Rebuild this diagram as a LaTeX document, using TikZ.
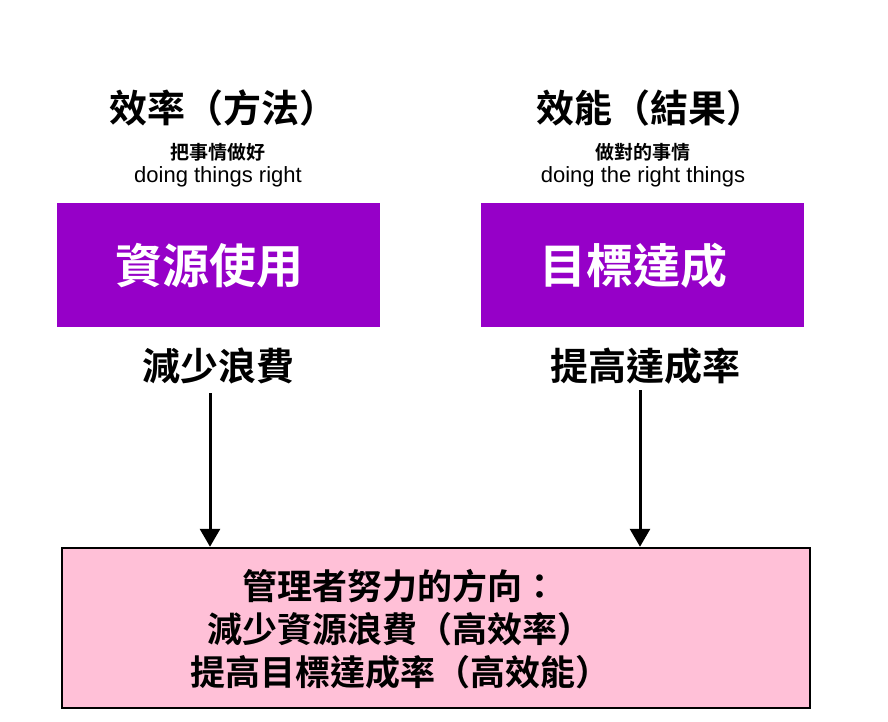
\documentclass[tikz,border=0pt]{standalone}
\usepackage{fontspec}
\setmainfont{Liberation Sans}
\newfontfamily\cjk{Noto Sans CJK TC}[BoldFont={* Bold}]
\usetikzlibrary{arrows.meta}
\definecolor{boxpurple}{RGB}{150,0,200}
\definecolor{boxpink}{RGB}{255,192,215}
\tikzset{
  title/.style={font=\cjk\bfseries\fontsize{38}{42}\selectfont, inner sep=0pt},
  subcjk/.style={font=\cjk\bfseries\fontsize{19}{21}\selectfont, inner sep=0pt},
  sublat/.style={font=\fontsize{22}{25}\selectfont, inner sep=0pt},
  purplebox/.style={fill=boxpurple, draw=none, minimum width=323pt, minimum height=124pt, inner sep=0pt},
  boxtext/.style={font=\cjk\bfseries\fontsize{47}{50}\selectfont, text=white, inner sep=0pt},
  arr/.style={line width=3pt, -{Triangle[width=20pt,length=18pt]}},
  bottomtext/.style={font=\cjk\bfseries\fontsize{35}{43}\selectfont, align=center, inner sep=0pt}
}
\begin{document}
\begin{tikzpicture}[x=1pt,y=-1pt]
\useasboundingbox (0,0) rectangle (888,721);
% left column
\node[title] (t1) at (223,108) {效率（方法）};
\node[subcjk] (s1) at (218,152) {把事情做好};
\node[sublat] (e1) at (218,177) {doing things right};
\node[purplebox] (b1) at (218.5,265) {};
\node[boxtext] (b1t) at (209,266) {資源使用};
\node[title] (r1) at (218,366) {減少浪費};
% right column
\node[title] (t2) at (650,108) {效能（結果）};
\node[subcjk] (s2) at (643,152) {做對的事情};
\node[sublat] (e2) at (643,177) {doing the right things};
\node[purplebox] (b2) at (642,265) {};
\node[boxtext] (b2t) at (633,266) {目標達成};
\node[title] (r2) at (645,366) {提高達成率};
% bottom box
\node[draw=black, line width=2.5pt, fill=boxpink, minimum width=748pt, minimum height=160pt, inner sep=0pt] (bb) at (436,628) {};
\node[bottomtext] (bt) at (400,629) {管理者努力的方向：\\減少資源浪費（高效率）\\提高目標達成率（高效能）};
% arrows
\coordinate (a1s) at (210,393);
\coordinate (a2s) at (640,390);
\draw[arr] (a1s) -- (a1s |- bb.north);
\draw[arr] (a2s) -- (a2s |- bb.north);
\end{tikzpicture}
\end{document}
